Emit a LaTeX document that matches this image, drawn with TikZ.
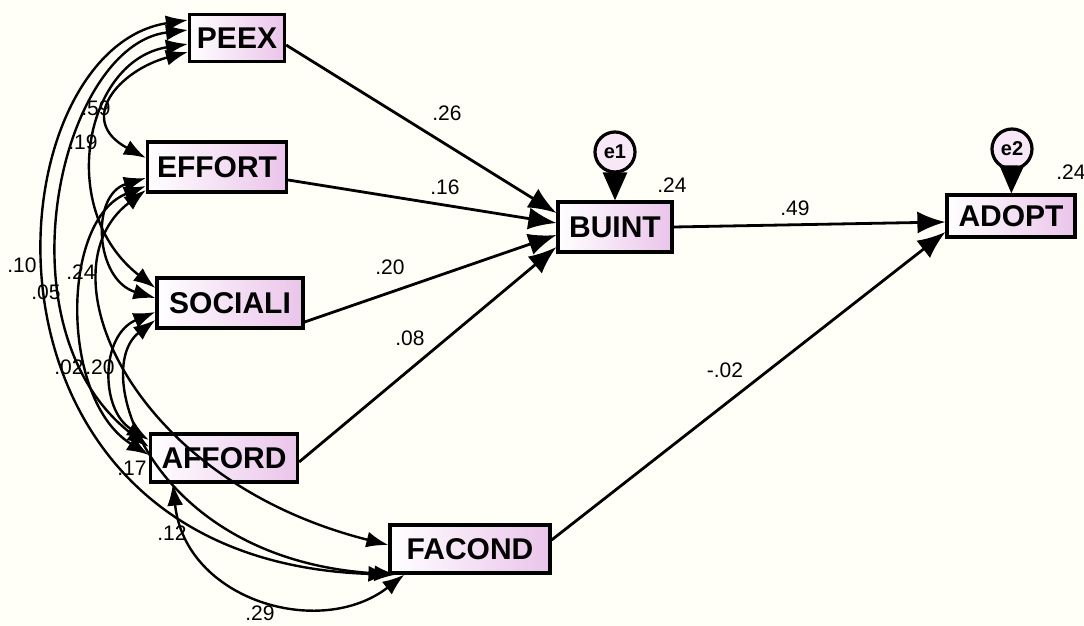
\documentclass[tikz,border=0pt]{standalone}
\usepackage{fontspec}
\setmainfont{Liberation Sans}
\usetikzlibrary{arrows.meta}

\definecolor{boxpink}{RGB}{234,196,234}
\definecolor{paper}{RGB}{255,255,247}

\tikzset{
  var/.style={draw, line width=1.6pt, left color=white, right color=boxpink,
    font=\bfseries\fontsize{15}{16}\selectfont, inner sep=0pt, minimum height=24pt},
  err/.style={circle, draw, line width=1.6pt, fill=boxpink!40, minimum size=20pt,
    inner sep=0pt, font=\bfseries\fontsize{10}{10}\selectfont},
  regr/.style={line width=1.4pt, -{Latex[length=14pt,width=11pt]}},
  cov/.style={line width=1.2pt, {Latex[length=11pt,width=8pt]}-{Latex[length=11pt,width=8pt]}},
  est/.style={font=\fontsize{10.5}{11}\selectfont, inner sep=0pt},
}

\begin{document}
\begin{tikzpicture}[x=0.5pt,y=0.5pt]
  \fill[paper] (0,0) rectangle (1084,-626);
  \useasboundingbox (0,0) rectangle (1084,-626);

  % observed variables
  \node[var, minimum width=47.5pt, minimum height=23.5pt] (peex) at (237,-38) {PEEX};
  \node[var, minimum width=69.5pt, minimum height=25pt] (effort) at (217,-167) {EFFORT};
  \node[var, minimum width=73pt, minimum height=25pt] (sociali) at (230,-303) {SOCIALI};
  \node[var, minimum width=73.5pt] (afford) at (224,-458) {AFFORD};
  \node[var, minimum width=80pt] (facond) at (470,-549) {FACOND};
  \node[var, minimum width=57pt, minimum height=25pt] (buint) at (615,-227) {BUINT};
  \node[var, minimum width=64pt, minimum height=21pt] (adopt) at (1011,-216) {ADOPT};

  % residuals
  \node[err] (e1) at (615,-152) {e1};
  \node[err] (e2) at (1012,-149) {e2};
  \draw[line width=1.4pt, -{Triangle[length=14pt,width=12pt]}] (e1) -- (buint);
  \draw[line width=1.4pt, -{Triangle[length=14pt,width=12pt]}] (e2) -- (adopt);

  % estimates
  \node[est, anchor=west] at (657,-185) {.24};
  \node[est, anchor=west] at (1056,-172) {.24};
  \node[est] at (447,-113) {.26};
  \node[est] at (445,-187) {.16};
  \node[est] at (390,-267) {.20};
  \node[est] at (410,-338) {.08};
  \node[est] at (795,-208) {.49};
  \node[est] at (725,-370) {-.02};
  \node[est] at (96,-108) {.59};
  \node[est] at (83,-142) {.19};
  \node[est] at (22,-265) {.10};
  \node[est] at (46,-292) {.05};
  \node[est] at (81,-272) {.24};
  \node[est] at (69,-367) {.02};
  \node[est] at (100,-367) {.20};
  \node[est] at (132,-468) {.17};
  \node[est] at (172,-533) {.12};
  \node[est] at (260,-613) {.29};

  % regressions
  \draw[regr] ([yshift=-3.5pt]peex.east) -- ([yshift=7pt]buint.west);
  \draw[regr] ([yshift=-6.5pt]effort.east) -- ([yshift=2pt]buint.west);
  \draw[regr] ([yshift=-9.5pt]sociali.east) -- ([yshift=-4pt]buint.west);
  \draw[regr] ([yshift=-2pt]afford.east) -- ([yshift=-10pt]buint.west);
  \draw[regr] (buint.east) -- ([yshift=-3pt]adopt.west);
  \draw[regr] ([yshift=4.5pt]facond.east) -- ([yshift=-8pt]adopt.west);

  % covariances
  \draw[cov] ([yshift=-7pt]peex.west) .. controls (120,-70) and (75,-120) .. ([yshift=4.5pt]effort.west);
  \draw[cov] ([yshift=-3pt]peex.west) .. controls (85,-60) and (55,-210) .. ([yshift=7.5pt]sociali.west);
  \draw[cov] ([yshift=4pt]peex.west) .. controls (60,-45) and (-5,-330) .. ([yshift=5.5pt]afford.west);
  \draw[cov] ([yshift=9pt]peex.west) .. controls (-10,-50) and (-50,-560) .. ([xshift=1pt]facond.south west);
  \draw[cov] ([yshift=-5.5pt]effort.west) .. controls (90,-195) and (95,-280) .. ([yshift=2.5pt]sociali.west);
  \draw[cov] ([yshift=-9.5pt]effort.west) .. controls (60,-220) and (60,-400) .. ([yshift=1.5pt]afford.west);
  \draw[cov] ([yshift=-11.5pt]effort.west) .. controls (40,-270) and (130,-480) .. ([yshift=2pt]facond.west);
  \draw[cov] ([yshift=-4.5pt]sociali.west) .. controls (100,-335) and (100,-410) .. ([yshift=9pt]afford.west);
  \draw[cov] ([yshift=-8.5pt]sociali.west) .. controls (90,-370) and (150,-560) .. ([xshift=4pt]facond.south west);
  \draw[cov] ([xshift=12pt]afford.south west) .. controls (185,-600) and (320,-640) .. ([xshift=8pt]facond.south west);
\end{tikzpicture}
\end{document}
